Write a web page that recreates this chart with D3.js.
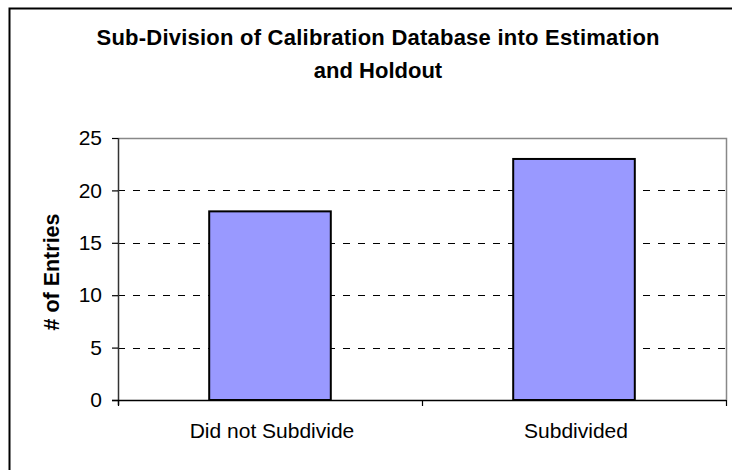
<!DOCTYPE html>
<html>
<head>
<meta charset="utf-8">
<script src="https://cdn.jsdelivr.net/npm/d3@7"></script>
<style>
  html, body { margin: 0; padding: 0; background: #fff; }
  svg { display: block; }
  text { font-family: "Liberation Sans", Arial, sans-serif; }
</style>
</head>
<body>
<svg id="chart" width="732" height="470"></svg>
<script>
const titleLines = ["Sub-Division of Calibration Database into Estimation", "and Holdout"];
const categories = ["Did not Subdivide", "Subdivided"];
const values = [18, 23];
const yTicks = [0, 5, 10, 15, 20, 25];
const yLabel = "# of Entries";

const svg = d3.select("#chart");
const plot = { left: 118, right: 726, top: 138, bottom: 400 };

// chart frame (extends past right/bottom edges)
svg.append("rect")
  .attr("x", 9.5).attr("y", 8.5)
  .attr("width", 800).attr("height", 600)
  .attr("fill", "#fff").attr("stroke", "#000").attr("stroke-width", 2);

const y = d3.scaleLinear().domain([0, 25]).range([plot.bottom, plot.top]);
const xOuter = d3.scaleBand().domain(categories).range([plot.left, plot.right]).padding(0);
const x = d3.scaleBand().domain(categories).range([plot.left, plot.right])
  .paddingInner(0.6).paddingOuter(0.3);

// plot area border (top and right, grey)
svg.append("path")
  .attr("d", `M${plot.left},${plot.top + 0.5}H${plot.right + 0.5}V${plot.bottom}`)
  .attr("fill", "none").attr("stroke", "#888").attr("stroke-width", 1.5);

// gridlines
svg.append("g").selectAll("line")
  .data(yTicks.filter(d => d > 0 && d < 25))
  .join("line")
  .attr("x1", plot.left).attr("x2", plot.right)
  .attr("y1", d => Math.round(y(d)) + 0.5).attr("y2", d => Math.round(y(d)) + 0.5)
  .attr("stroke", "#000").attr("stroke-width", 1)
  .attr("stroke-dasharray", "7,8");

// bars
svg.append("g").selectAll("rect")
  .data(categories.map((c, i) => ({ c, v: values[i] })))
  .join("rect")
  .attr("x", d => x(d.c))
  .attr("y", d => y(d.v))
  .attr("width", x.bandwidth())
  .attr("height", d => y(0) - y(d.v))
  .attr("fill", "#9999FF")
  .attr("stroke", "#000").attr("stroke-width", 2);

// y axis
const yAxis = svg.append("g")
  .attr("transform", `translate(${plot.left},0)`)
  .call(d3.axisLeft(y).tickValues(yTicks).tickSize(6).tickPadding(10).tickSizeOuter(0));
yAxis.select(".domain").attr("stroke", "#333").attr("stroke-width", 1.5)
  .attr("d", `M0.5,${plot.top}V${plot.bottom + 5}`);
yAxis.selectAll(".tick line").attr("stroke", "#000").attr("stroke-width", 1.2);
yAxis.selectAll(".tick text")
  .attr("font-family", "Liberation Sans, Arial, sans-serif")
  .attr("font-size", 21).attr("fill", "#000");

// x axis
const xg = svg.append("g");
xg.append("line")
  .attr("x1", plot.left - 6).attr("x2", plot.right)
  .attr("y1", plot.bottom + 0.5).attr("y2", plot.bottom + 0.5)
  .attr("stroke", "#000").attr("stroke-width", 1.5);
const xTickPos = categories.map(c => xOuter(c)).concat([xOuter(categories[categories.length - 1]) + xOuter.bandwidth()]);
xg.selectAll("line.t").data(xTickPos).join("line").attr("class", "t")
  .attr("x1", d => d + 0.5).attr("x2", d => d + 0.5)
  .attr("y1", plot.bottom).attr("y2", plot.bottom + 6)
  .attr("stroke", "#000").attr("stroke-width", 1.2);
xg.selectAll("text").data(categories).join("text")
  .attr("x", d => xOuter(d) + xOuter.bandwidth() / 2 + 2)
  .attr("y", 438)
  .attr("text-anchor", "middle")
  .attr("font-size", 21).attr("fill", "#000")
  .text(d => d);

// y label
svg.append("text")
  .attr("transform", `translate(59,272) rotate(-90)`)
  .attr("text-anchor", "middle")
  .attr("font-size", 21.5).attr("font-weight", "bold")
  .text(yLabel);

// title
const tt = svg.append("g").selectAll("text").data(titleLines).join("text")
  .attr("x", 378)
  .attr("y", (d, i) => 45 + i * 33)
  .attr("text-anchor", "middle")
  .attr("font-size", 22).attr("font-weight", "bold")
  .text(d => d);
tt.filter((d, i) => i === 0).attr("textLength", 563).attr("lengthAdjust", "spacing");
</script>
</body>
</html>
